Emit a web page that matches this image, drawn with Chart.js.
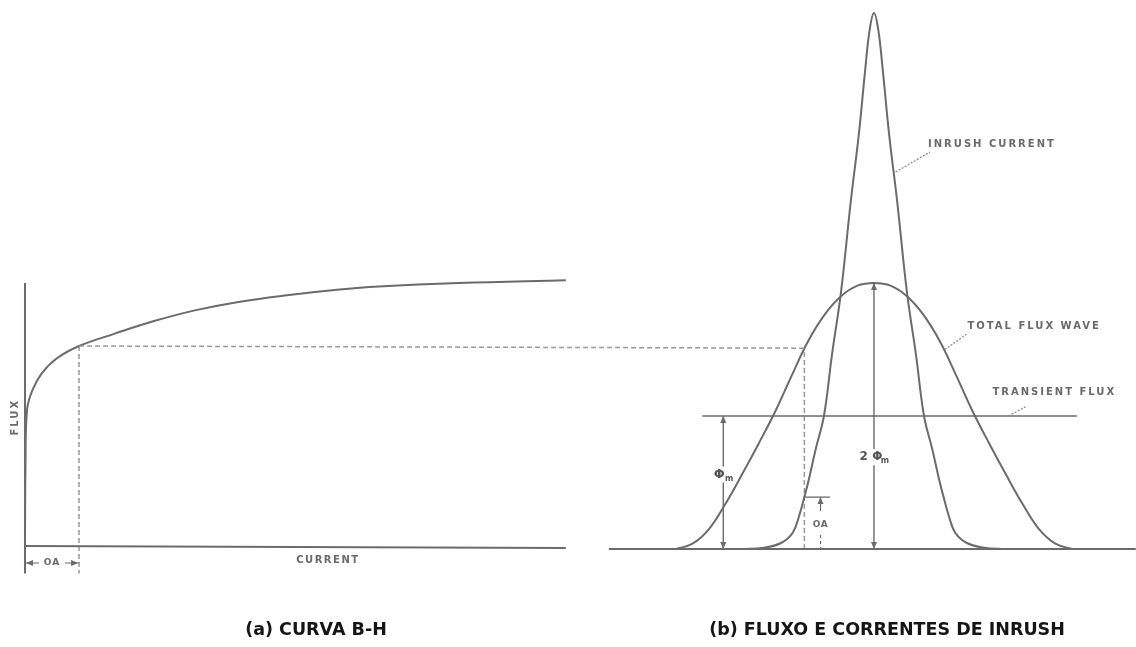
<!DOCTYPE html>
<html>
<head>
<meta charset="utf-8">
<script src="https://cdn.jsdelivr.net/npm/chart.js@4.4.1/dist/chart.umd.min.js"></script>
<style>
    body { margin: 0; background: #fff; }
    #wrap { position: relative; width: 1136px; height: 647px; overflow: hidden; }
    .cap { position: absolute; top: 619px; font: bold 17.5px "DejaVu Sans", sans-serif; color: #151515; white-space: nowrap; transform: translateX(-50%); }
</style>
</head>
<body>
<div id="wrap">
    <canvas id="myChart" width="1136" height="647"></canvas>
    <div class="cap" style="left:316px">(a) CURVA B-H</div>
    <div class="cap" style="left:887px">(b) FLUXO E CORRENTES DE INRUSH</div>
</div>
<script>
// (a) B-H curve: current (0-100) vs flux (relative)
const bhCurrent = [0, 0.1, 0.4, 1.4, 3.1, 5.9, 10, 16.6, 23.7, 31.4, 39.2, 48.4, 57.7, 65.4, 80.2, 100];
const bhFlux = [0, 0.3, 0.5, 0.57, 0.63, 0.685, 0.73, 0.775, 0.82, 0.86, 0.89, 0.915, 0.935, 0.947, 0.96, 0.97];
const kneeCurrent = 10;   // OA
const kneeFlux = 0.73;

// (b) flux wave and inrush current, angle in degrees, values in units of phi_m
const waveAngle = [0, 15, 30, 45, 60, 75, 90, 105, 120, 135, 150, 165, 180, 195, 210, 225, 240, 255, 270, 285, 300, 315, 330, 345, 360];
const totalFlux = [0, 0.04, 0.15, 0.34, 0.56, 0.79, 1.03, 1.3, 1.56, 1.76, 1.9, 1.98, 2.0, 1.98, 1.9, 1.76, 1.56, 1.3, 1.03, 0.79, 0.56, 0.34, 0.15, 0.04, 0];
const inrushAngle = [60, 80, 95.5, 106, 112, 116.7, 121, 127, 134.5, 141.8, 150, 159, 166, 172, 176, 180, 184, 188, 194, 201, 210, 218.2, 225.5, 233, 239, 243.3, 248, 254, 264.5, 280, 300];
const inrushCurrent = [0, 0.01, 0.045, 0.12, 0.25, 0.39, 0.53, 0.75, 1.0, 1.46, 1.93, 2.62, 3.1, 3.6, 3.9, 4.03, 3.9, 3.6, 3.1, 2.62, 1.93, 1.46, 1.0, 0.75, 0.53, 0.39, 0.25, 0.12, 0.045, 0.01, 0];
const transientFlux = 1.0;
const phiM = 1.0;
const oaAngle = 116.7;     // where total flux equals the knee flux
const oaFlux = 1.51;
const oaCurrent = 0.39;

const ink = '#6b6b6b';
const dashInk = '#9a9a9a';

function pts(xs, ys) {
    return xs.map((v, i) => ({x: v, y: ys[i]}));
}

function line(data, opts) {
    return Object.assign({
        data: data,
        borderColor: ink,
        borderWidth: 2,
        pointRadius: 0,
        fill: false,
        tension: 0
    }, opts);
}

const datasets = [
    // panel (a)
    line(pts(bhCurrent, bhFlux), {tension: 0.4}),
    line([{x: 0, y: -0.1}, {x: 0, y: 0.96}], {}),
    line([{x: 0, y: 0}, {x: 100, y: -0.007}], {}),
    line([{x: kneeCurrent, y: kneeFlux}, {x: kneeCurrent, y: -0.1}], {borderColor: dashInk, borderWidth: 1.5, borderDash: [5, 3]}),
    // panel (b)
    line([{x: -61, y: 0}, {x: 418, y: 0}], {xAxisID: 'x2', yAxisID: 'y2'}),
    line(pts(waveAngle, totalFlux), {xAxisID: 'x2', yAxisID: 'y2', tension: 0.4}),
    line(pts(inrushAngle, inrushCurrent), {xAxisID: 'x2', yAxisID: 'y2', tension: 0.4}),
    line([{x: 24, y: transientFlux}, {x: 364.5, y: transientFlux}], {xAxisID: 'x2', yAxisID: 'y2', borderWidth: 1.6}),
    line([{x: 43, y: 0}, {x: 43, y: phiM}], {xAxisID: 'x2', yAxisID: 'y2', borderWidth: 1.4}),
    line([{x: 180, y: 0}, {x: 180, y: 2 * phiM}], {xAxisID: 'x2', yAxisID: 'y2', borderWidth: 1.4}),
    line([{x: oaAngle, y: 0}, {x: oaAngle, y: oaFlux}], {xAxisID: 'x2', yAxisID: 'y2', borderColor: dashInk, borderWidth: 1.5, borderDash: [5, 3]}),
    line([{x: oaAngle, y: oaCurrent}, {x: 140, y: oaCurrent}], {xAxisID: 'x2', yAxisID: 'y2', borderWidth: 1.3})
];

function arrow(ctx, x, y, dir) {
    const L = 7, W = 3;
    ctx.beginPath();
    ctx.moveTo(x, y);
    if (dir === 'up') { ctx.lineTo(x - W, y + L); ctx.lineTo(x + W, y + L); }
    if (dir === 'down') { ctx.lineTo(x - W, y - L); ctx.lineTo(x + W, y - L); }
    if (dir === 'left') { ctx.lineTo(x + L, y - W); ctx.lineTo(x + L, y + W); }
    if (dir === 'right') { ctx.lineTo(x - L, y - W); ctx.lineTo(x - L, y + W); }
    ctx.closePath();
    ctx.fill();
}

function label(ctx, text, x, y, size, spacing) {
    ctx.font = 'bold ' + size + 'px "DejaVu Sans", sans-serif';
    ctx.letterSpacing = spacing + 'px';
    ctx.fillText(text, x, y);
    ctx.letterSpacing = '0px';
}

const extras = {
    id: 'extras',
    afterDatasetsDraw(chart) {
        const ctx = chart.ctx;
        const {x, y, x2, y2} = chart.scales;
        ctx.save();
        ctx.strokeStyle = dashInk;
        ctx.fillStyle = ink;
        ctx.lineWidth = 1.5;

        // dashed link from the knee of the B-H curve to the flux wave
        ctx.setLineDash([5, 3]);
        ctx.beginPath();
        ctx.moveTo(x.getPixelForValue(kneeCurrent), y.getPixelForValue(kneeFlux));
        ctx.lineTo(x2.getPixelForValue(oaAngle), y2.getPixelForValue(oaFlux));
        ctx.stroke();
        ctx.setLineDash([]);

        // arrows on phi_m and 2 phi_m
        const pa = x2.getPixelForValue(43), pc = x2.getPixelForValue(180);
        arrow(ctx, pa, y2.getPixelForValue(phiM), 'up');
        arrow(ctx, pa, y2.getPixelForValue(0), 'down');
        arrow(ctx, pc, y2.getPixelForValue(2 * phiM), 'up');
        arrow(ctx, pc, y2.getPixelForValue(0), 'down');

        // OA in panel (b)
        const po = x2.getPixelForValue(131.4);
        const pTop = y2.getPixelForValue(oaCurrent);
        const pBase = y2.getPixelForValue(0);
        ctx.strokeStyle = ink;
        ctx.lineWidth = 1.2;
        ctx.beginPath();
        ctx.moveTo(po, pTop); ctx.lineTo(po, pTop + 14);
        ctx.stroke();
        arrow(ctx, po, pTop, 'up');
        ctx.setLineDash([3, 3]);
        ctx.beginPath();
        ctx.moveTo(po, pBase - 14); ctx.lineTo(po, pBase);
        ctx.stroke();
        ctx.setLineDash([]);

        // OA bracket in panel (a)
        const b0 = x.getPixelForValue(0), b1 = x.getPixelForValue(kneeCurrent);
        const by = y.getPixelForValue(-0.062);
        ctx.beginPath();
        ctx.moveTo(b0, by); ctx.lineTo(b0 + 14, by);
        ctx.moveTo(b1 - 14, by); ctx.lineTo(b1, by);
        ctx.stroke();
        arrow(ctx, b0 + 1, by, 'left');
        arrow(ctx, b1 - 1, by, 'right');

        // text
        ctx.fillStyle = '#6a6a6a';
        ctx.textAlign = 'center';
        ctx.textBaseline = 'middle';
        label(ctx, 'OA', (b0 + b1) / 2, by, 9, 1);
        label(ctx, 'CURRENT', x.getPixelForValue(56), y.getPixelForValue(-0.052), 10, 1.5);
        ctx.save();
        ctx.translate(x.getPixelForValue(-1.8), y.getPixelForValue(0.47));
        ctx.rotate(-Math.PI / 2);
        label(ctx, 'FLUX', 0, 0, 10, 2);
        ctx.restore();
        label(ctx, 'OA', po, y2.getPixelForValue(0.18), 9, 0.5);

        // phi labels with a white gap behind
        ctx.fillStyle = '#fff';
        ctx.fillRect(pa - 10, y2.getPixelForValue(0.56) - 8, 22, 16);
        ctx.fillRect(pc - 18, y2.getPixelForValue(0.69) - 8, 36, 16);
        ctx.fillStyle = '#555';
        label(ctx, 'Φ', pa - 4, y2.getPixelForValue(0.56), 13, 0);
        label(ctx, 'm', pa + 6, y2.getPixelForValue(0.56) + 4, 8, 0);
        label(ctx, '2 Φ', pc - 3, y2.getPixelForValue(0.69), 12, 0);
        label(ctx, 'm', pc + 11, y2.getPixelForValue(0.69) + 4, 8, 0);

        // callouts
        const callouts = [
            {text: 'INRUSH CURRENT', a: 229.1, v: 3.04, from: [199.7, 2.835], to: [230.9, 2.985]},
            {text: 'TOTAL FLUX WAVE', a: 265, v: 1.67, from: [244.5, 1.5], to: [265, 1.62]},
            {text: 'TRANSIENT FLUX', a: 287.7, v: 1.18, from: [302.3, 1.0], to: [319.1, 1.075]}
        ];
        ctx.textAlign = 'left';
        ctx.fillStyle = '#6a6a6a';
        ctx.strokeStyle = '#888';
        ctx.lineWidth = 1.2;
        callouts.forEach(c => {
            label(ctx, c.text, x2.getPixelForValue(c.a), y2.getPixelForValue(c.v), 10, 2);
            ctx.setLineDash([2, 1.5]);
            ctx.beginPath();
            ctx.moveTo(x2.getPixelForValue(c.from[0]), y2.getPixelForValue(c.from[1]));
            ctx.lineTo(x2.getPixelForValue(c.to[0]), y2.getPixelForValue(c.to[1]));
            ctx.stroke();
            ctx.setLineDash([]);
        });
        ctx.restore();
    }
};

const ctx = document.getElementById('myChart').getContext('2d');
const myChart = new Chart(ctx, {
    type: 'line',
    data: { datasets: datasets },
    options: {
        responsive: false,
        animation: false,
        devicePixelRatio: 1,
        layout: { padding: 0 },
        plugins: { legend: { display: false }, tooltip: { enabled: false } },
        scales: {
            x: { type: 'linear', display: false, min: -4.62, max: 205.4 },
            y: { type: 'linear', display: false, min: -0.3686, max: 1.9927 },
            x2: { type: 'linear', axis: 'x', display: false, min: -614.5, max: 418.2 },
            y2: { type: 'linear', axis: 'y', display: false, min: -0.737, max: 4.128 }
        }
    },
    plugins: [extras]
});
</script>
</body>
</html>
